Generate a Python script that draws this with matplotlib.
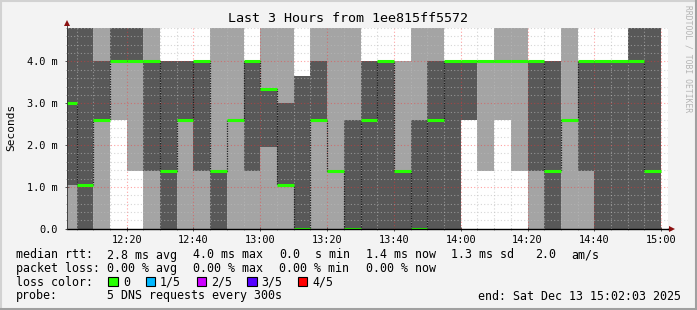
import matplotlib
matplotlib.use("Agg")
import matplotlib.pyplot as plt
import numpy as np
from matplotlib.patches import Rectangle
from matplotlib.lines import Line2D

W, H = 697, 310
MONO = "DejaVu Sans Mono"

title = "Last 3 Hours from 1ee815ff5572"
y_label = "Seconds"
side_text = "RRDTOOL / TOBI OETIKER"

# 5-minute bins starting at 12:00 (minutes after 12:00)
bin_step = 5
bin_start = [0, 5, 10, 15, 20, 25, 30, 35, 40, 45, 50, 55,
             60, 65, 70, 75, 80, 85, 90, 95, 100, 105, 110, 115,
             120, 125, 130, 135, 140, 145, 150, 155, 160, 165, 170, 175]

# sorted ping times per bin (ms); 5.0 = above the top of the chart
p1 = [0, 0, 0, 2.6, 1.39, 0, 0, 0, 0, 0, 0, 0,
      0, 0, 0, 0, 0, 0, 0, 0, 0, 0, 0, 0,
      2.6, 1.39, 2.6, 1.39, 0, 0, 0, 0, 0, 0, 0, 0]
p2 = [1.05, 0, 2.6, 4.0, 4.0, 1.39, 0, 2.6, 1.39, 0, 2.6, 1.39,
      1.95, 1.05, 0, 2.6, 1.39, 0, 0, 0, 0, 0, 0, 0,
      2.6, 4.0, 4.0, 4.0, 1.39, 0, 2.6, 1.39, 0, 0, 0, 0]
median = [3.0, 1.05, 2.6, 4.0, 4.0, 4.0, 1.39, 2.6, 4.0, 1.39, 2.6, 4.0,
          3.35, 1.05, 0, 2.6, 1.39, 0, 2.6, 4.0, 1.39, 0, 2.6, 4.0,
          4.0, 4.0, 4.0, 4.0, 4.0, 1.39, 2.6, 4.0, 4.0, 4.0, 4.0, 1.39]
p4 = [5.0, 5.0, 4.0, 5.0, 5.0, 4.0, 4.0, 4.0, 4.0, 1.39, 2.6, 4.0,
      3.35, 3.0, 3.65, 4.0, 1.39, 2.6, 4.0, 4.0, 1.39, 2.6, 4.0, 4.0,
      4.0, 4.0, 4.0, 4.0, 4.0, 4.0, 2.6, 4.0, 4.0, 4.0, 5.0, 5.0]
p5 = [5.0, 5.0, 5.0, 5.0, 5.0, 5.0, 4.0, 4.0, 4.0, 5.0, 5.0, 4.0,
      5.0, 5.0, 3.65, 5.0, 5.0, 5.0, 4.0, 4.0, 4.0, 5.0, 5.0, 4.0,
      4.0, 4.0, 5.0, 5.0, 4.0, 4.0, 5.0, 4.0, 4.0, 4.0, 5.0, 5.0]

x_tick_minutes = [20, 40, 60, 80, 100, 120, 140, 160, 180]
x_tick_labels = ["12:20", "12:40", "13:00", "13:20", "13:40", "14:00", "14:20", "14:40", "15:00"]
y_ticks = [0, 1, 2, 3, 4]
y_tick_labels = ["0.0", "1.0 m", "2.0 m", "3.0 m", "4.0 m"]

x_start, x_end = 2.05, 182.05   # 12:02:03 .. 15:02:03
y_top = 4.8

legend_rows = [
    [("median rtt:", 16), ("2.8 ms avg", 107.3), ("4.0 ms max", 193.3), ("0.0", 279.3),
     ("s min", 315), ("1.4 ms now", 366), ("1.3 ms sd", 451), ("2.0", 535), ("am/s", 571.7)],
    [("packet loss:", 16), ("0.00 % avg", 107.3), ("0.00 % max", 193.3),
     ("0.00 % min", 279.3), ("0.00 % now", 366)],
    [("loss color:", 16)],
    [("probe:", 16), ("5 DNS requests every 300s", 107.3),
     ("end: Sat Dec 13 15:02:03 2025", 478.3)],
]
row_y = [255, 268.3, 282.3, 296]
loss_labels = ["0", "1/5", "2/5", "3/5", "4/5"]
loss_colors = ["#26ff00", "#00b8ff", "#cc00ff", "#5500ff", "#ff0000"]
loss_box_x = [108.3, 145.7, 196.7, 247.3, 297.7]
loss_text_x = [123.3, 160, 211, 261.7, 312.3]


def fx(px):
    return px / W


def fy(py):
    return 1 - py / H


fig = plt.figure(figsize=(W / 100, H / 100), dpi=100, facecolor="#f3f3f3")
left, right, top, bottom = 66.7, 668, 28, 228.7
ax = fig.add_axes([fx(left), fy(bottom), fx(right - left), (bottom - top) / H])
ax.set_facecolor("white")
ax.set_xlim(x_start, x_end)
ax.set_ylim(0, y_top)

edges = np.append(np.array(bin_start, float), bin_start[-1] + bin_step)


def ext(a):
    a = np.asarray(a, float)
    return np.append(a, a[-1])


ax.fill_between(edges, ext(p1), ext(p5), step="post", color="#a4a4a4", lw=0, zorder=1)
ax.fill_between(edges, ext(p2), ext(p4), step="post", color="#585858", lw=0, zorder=1.1)

# grid (drawn over the smoke, like rrdtool)
minor_x = np.arange(5, 185, 5)
for m in minor_x:
    if m % 20 == 0:
        ax.axvline(m, color="#ff3030", alpha=0.45, lw=0.8, ls=(0, (1, 2)), zorder=2)
    else:
        ax.axvline(m, color="#bbbbbb", alpha=0.6, lw=0.8, ls=(0, (1, 2)), zorder=2)
for v in np.arange(0.2, 4.81, 0.2):
    if abs(v - round(v)) < 1e-6:
        ax.axhline(v, color="#ff3030", alpha=0.45, lw=0.8, ls=(0, (1, 2)), zorder=2)
    else:
        ax.axhline(v, color="#bbbbbb", alpha=0.6, lw=0.8, ls=(0, (1, 2)), zorder=2)

# median: dark connecting step line + green segments
ax.step(edges, ext(median), where="post", color="#202020", lw=0.9,
        ls=(0, (1, 1)), zorder=3)
ax.hlines(median, edges[:-1], edges[1:], color=loss_colors[0], lw=2.2, zorder=4)

# axes
for s in ["top", "right"]:
    ax.spines[s].set_visible(False)
ax.spines["left"].set_visible(False)
ax.spines["bottom"].set_color("black")
ax.spines["bottom"].set_linewidth(1.0)
ax.spines["bottom"].set_zorder(5)

ax.set_xticks(x_tick_minutes)
ax.set_xticklabels(x_tick_labels, family=MONO, fontsize=7.4)
ax.set_xticks(minor_x, minor=True)
ax.set_yticks(y_ticks)
ax.set_yticklabels(y_tick_labels, family=MONO, fontsize=7.4)
ax.set_yticks(np.arange(0, 4.81, 0.2), minor=True)
ax.tick_params(axis="both", which="major", length=2.5, width=0.7, color="#555555",
               direction="inout", pad=3)
ax.tick_params(axis="both", which="minor", length=2, width=0.6, color="#888888",
               direction="inout")
ax.tick_params(axis="y", pad=5)

# axis extension lines and arrows
fig.add_artist(Line2D([fx(right), fx(671)], [fy(bottom), fy(bottom)], color="black", lw=1.0))
fig.add_artist(Line2D([fx(left), fx(left)], [fy(bottom), fy(24)], color="#333333", lw=0.6))
fig.add_artist(Line2D([fx(672)], [fy(bottom)], marker=">", color="#8b1010", ms=4.5, mew=0))
fig.add_artist(Line2D([fx(left)], [fy(23)], marker="^", color="#8b1010", ms=4.5, mew=0))

# texts
fig.text(fx(348), fy(18), title, ha="center", va="center", family=MONO, fontsize=9.6)
fig.text(fx(11), fy(127), y_label, ha="center", va="center", rotation=90,
         family=MONO, fontsize=8)
fig.text(fx(688), fy(59), side_text, ha="center", va="center", rotation=270,
         family=MONO, fontsize=5.8, color="#b4b4b4")

for row, yy in zip(legend_rows, row_y):
    for txt, xx in row:
        fig.text(fx(xx), fy(yy), txt, ha="left", va="center", family=MONO, fontsize=8.4)

for lab, col, bx, tx in zip(loss_labels, loss_colors, loss_box_x, loss_text_x):
    fig.add_artist(Rectangle((fx(bx), fy(286.3)), fx(9.3), 9 / H, facecolor=col,
                             edgecolor="black", lw=0.8))
    fig.text(fx(tx), fy(row_y[2]), lab, ha="left", va="center", family=MONO, fontsize=8.4)

# 3D frame
fig.add_artist(Line2D([0, 1], [fy(1), fy(1)], color="#d2d2d2", lw=1.5))
fig.add_artist(Line2D([fx(1), fx(1)], [0, 1], color="#d2d2d2", lw=1.5))
fig.add_artist(Line2D([fx(696), fx(696)], [0, 1], color="#a0a0a0", lw=1.5))
fig.add_artist(Line2D([0, 1], [fy(309), fy(309)], color="#a0a0a0", lw=2.2))

fig.savefig("out.png", dpi=100, facecolor=fig.get_facecolor())
